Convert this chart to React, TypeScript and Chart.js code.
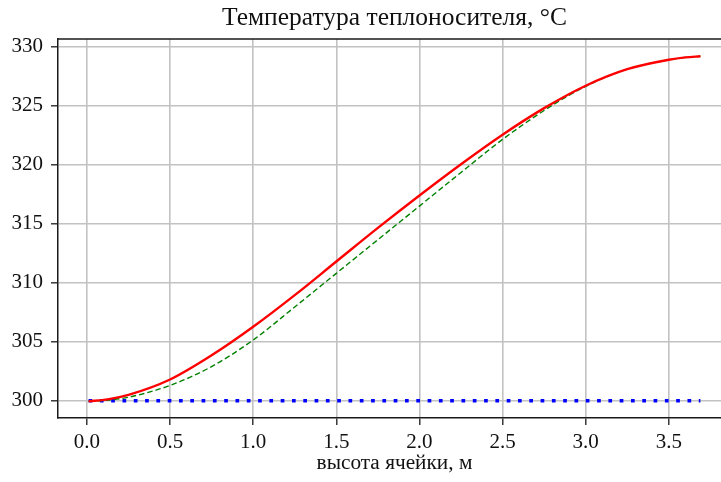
import React, { useEffect, useRef } from "react";
import { Chart, registerables } from "chart.js";

Chart.register(...registerables);

// Height of the cell, m
const heights = [0.01, 0.125, 0.25, 0.5, 0.75, 1.0, 1.25, 1.5, 1.75, 2.0, 2.25, 2.5, 2.75, 3.0, 3.25, 3.5, 3.6, 3.69];

// Coolant temperature, °C
const tempMain = [299.95, 300.12, 300.5, 301.8, 303.85, 306.27, 308.95, 311.8, 314.65, 317.4, 320.05, 322.55, 324.8, 326.7, 328.1, 328.9, 329.1, 329.2];
const tempAlt = [299.95, 300.05, 300.3, 301.3, 302.9, 305.15, 307.95, 310.8, 313.65, 316.5, 319.35, 322.15, 324.6, 326.65, 328.1, 328.9, 329.1, 329.2];
const tempInlet = [300, 300, 300, 300, 300, 300, 300, 300, 300, 300, 300, 300, 300, 300, 300, 300, 300, 300];

const xTicks = [0.0, 0.5, 1.0, 1.5, 2.0, 2.5, 3.0, 3.5];
const yTicks = [300, 305, 310, 315, 320, 325, 330];

const titleText = "Температура теплоносителя, °C";
const xLabel = "высота ячейки, м";

const FONT = "'Liberation Serif', 'Times New Roman', serif";

// Top spine of the axes frame
const framePlugin = {
  id: "frameTop",
  afterDraw(chart: any) {
    const { ctx, chartArea } = chart;
    ctx.save();
    ctx.strokeStyle = "#1a1a1a";
    ctx.lineWidth = 1.5;
    ctx.beginPath();
    ctx.moveTo(chartArea.left, chartArea.top);
    ctx.lineTo(chartArea.right, chartArea.top);
    ctx.stroke();
    ctx.restore();
  },
};

export default function App() {
  const canvasRef = useRef<HTMLCanvasElement | null>(null);

  useEffect(() => {
    if (!canvasRef.current) return;
    const toPoints = (ys: number[]) => heights.map((x, i) => ({ x, y: ys[i] }));

    const chart = new Chart(canvasRef.current, {
      type: "line",
      data: {
        datasets: [
          {
            data: toPoints(tempMain),
            borderColor: "#ff0000",
            borderWidth: 2.4,
            pointRadius: 0,
            cubicInterpolationMode: "monotone",
            order: 0,
          },
          {
            data: toPoints(tempAlt),
            borderColor: "#008000",
            borderWidth: 1.4,
            borderDash: [5.5, 3],
            pointRadius: 0,
            cubicInterpolationMode: "monotone",
            order: 1,
          },
          {
            data: toPoints(tempInlet),
            borderColor: "#0000ff",
            borderWidth: 3.6,
            borderDash: [3.7, 7.6],
            borderCapStyle: "butt",
            pointRadius: 0,
            order: 2,
          },
        ],
      },
      options: {
        animation: false,
        responsive: true,
        maintainAspectRatio: false,
        layout: { padding: { left: 0, right: 14, top: 0, bottom: 0 } },
        plugins: {
          legend: { display: false },
          tooltip: { enabled: false },
          title: {
            display: true,
            text: titleText,
            fullSize: false,
            color: "#111",
            font: { family: FONT, size: 25.5, weight: "normal" },
            padding: { top: 3, bottom: 5.4 },
          },
        },
        scales: {
          x: {
            type: "linear",
            min: -0.174,
            max: 3.874,
            afterBuildTicks: (axis: any) => {
              axis.ticks = xTicks.map((v) => ({ value: v }));
            },
            afterFit: (axis: any) => {
              axis.height = 64;
            },
            ticks: {
              color: "#111",
              font: { family: FONT, size: 21 },
              padding: 5,
              maxRotation: 0,
              callback: (v: any) => Number(v).toFixed(1),
            },
            grid: {
              color: "#c2c2c2",
              lineWidth: 1.6,
              tickColor: "#1a1a1a",
              tickWidth: 1.3,
              tickLength: 7,
            },
            border: { display: true, color: "#1a1a1a", width: 1.5 },
            title: {
              display: true,
              text: xLabel,
              color: "#111",
              font: { family: FONT, size: 21.3 },
              padding: { top: 0, bottom: 6 },
            },
          },
          y: {
            type: "linear",
            min: 298.54,
            max: 330.66,
            afterBuildTicks: (axis: any) => {
              axis.ticks = yTicks.map((v) => ({ value: v }));
            },
            afterFit: (axis: any) => {
              axis.width = 58;
            },
            ticks: {
              color: "#111",
              font: { family: FONT, size: 21 },
              padding: 8,
              callback: (v: any) => String(v),
            },
            grid: {
              color: "#c2c2c2",
              lineWidth: 1.6,
              tickColor: "#1a1a1a",
              tickWidth: 1.3,
              tickLength: 7,
            },
            border: { display: true, color: "#1a1a1a", width: 1.5 },
          },
        },
      },
      plugins: [framePlugin],
    });

    return () => chart.destroy();
  }, []);

  return (
    <div
      style={{
        position: "fixed",
        left: 0,
        top: 0,
        width: 721,
        height: 482,
        overflow: "hidden",
        background: "#fff",
      }}
    >
      <div style={{ position: "relative", width: 745, height: 482 }}>
        <canvas ref={canvasRef} />
      </div>
    </div>
  );
}
